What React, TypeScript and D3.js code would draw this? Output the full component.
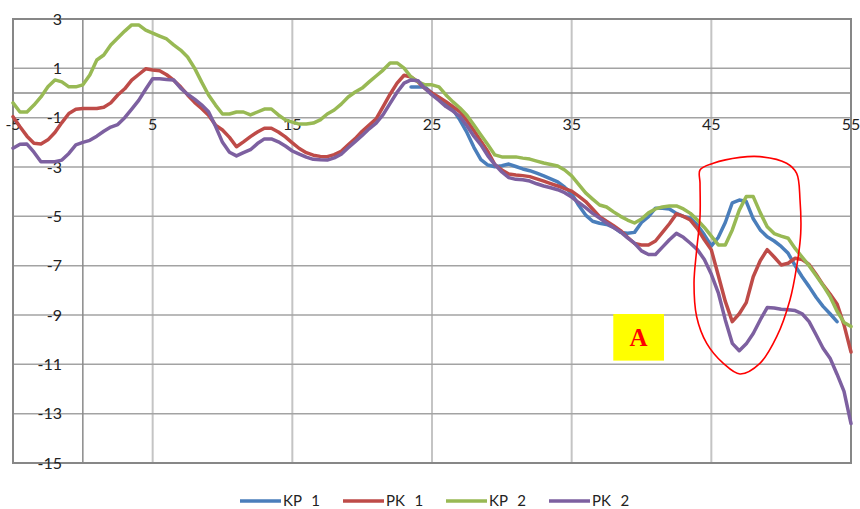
import React from 'react';
import * as d3 from 'd3';

const X_START = -5;
const X_STEP = 0.5;
const KP1_START = 23.5;

const kp1 = [0.24, 0.24, 0.24, 0.0, -0.25, -0.42, -0.67, -1.1, -1.6, -2.2, -2.7, -2.92, -2.99, -2.95, -2.88, -2.98, -3.08, -3.15, -3.25, -3.36, -3.48, -3.6, -3.82, -4.08, -4.55, -4.95, -5.2, -5.28, -5.33, -5.45, -5.65, -5.69, -5.65, -5.25, -5.01, -4.67, -4.67, -4.7, -4.88, -5.0, -5.08, -5.35, -5.75, -6.2, -5.85, -5.25, -4.45, -4.34, -4.4, -5.1, -5.55, -5.83, -6.0, -6.22, -6.5, -7.0, -7.45, -7.85, -8.28, -8.65, -8.95, -9.27];

const pk1 = [-0.96, -1.37, -1.75, -2.04, -2.07, -1.9, -1.6, -1.2, -0.83, -0.66, -0.63, -0.63, -0.63, -0.58, -0.4, -0.08, 0.17, 0.52, 0.75, 0.98, 0.93, 0.9, 0.74, 0.52, 0.25, -0.08, -0.38, -0.63, -0.9, -1.3, -1.5, -1.8, -2.18, -1.98, -1.77, -1.58, -1.43, -1.43, -1.58, -1.78, -2.02, -2.25, -2.42, -2.52, -2.57, -2.58, -2.5, -2.36, -2.1, -1.85, -1.55, -1.3, -1.05, -0.55, -0.05, 0.4, 0.72, 0.65, 0.45, 0.18, 0.0, -0.17, -0.35, -0.55, -0.76, -1.12, -1.52, -1.95, -2.37, -2.9, -3.12, -3.28, -3.32, -3.35, -3.39, -3.48, -3.57, -3.67, -3.77, -3.88, -3.98, -4.18, -4.4, -4.7, -5.01, -5.2, -5.38, -5.58, -5.85, -6.1, -6.16, -6.16, -6.0, -5.65, -5.3, -4.9, -5.0, -5.15, -5.5, -5.95, -6.36, -7.4, -8.45, -9.27, -8.95, -8.5, -7.45, -6.8, -6.35, -6.65, -6.97, -6.9, -6.7, -6.75, -6.95, -7.35, -7.78, -8.15, -8.55, -9.4, -10.5];

const kp2 = [-0.4, -0.77, -0.77, -0.49, -0.16, 0.25, 0.53, 0.45, 0.25, 0.25, 0.33, 0.73, 1.34, 1.54, 1.95, 2.23, 2.51, 2.76, 2.76, 2.55, 2.43, 2.31, 2.19, 1.95, 1.74, 1.46, 1.01, 0.45, -0.08, -0.49, -0.85, -0.85, -0.77, -0.77, -0.89, -0.77, -0.65, -0.65, -0.89, -1.09, -1.18, -1.26, -1.26, -1.22, -1.09, -0.85, -0.69, -0.45, -0.16, 0.04, 0.2, 0.45, 0.69, 0.93, 1.22, 1.22, 1.01, 0.65, 0.45, 0.33, 0.33, 0.25, -0.08, -0.36, -0.61, -0.9, -1.3, -1.7, -2.1, -2.51, -2.59, -2.59, -2.59, -2.64, -2.68, -2.76, -2.84, -2.9, -2.96, -3.12, -3.36, -3.7, -4.05, -4.3, -4.54, -4.62, -4.82, -5.0, -5.15, -5.27, -5.11, -4.86, -4.7, -4.62, -4.58, -4.58, -4.7, -4.88, -5.15, -5.45, -5.8, -6.16, -6.16, -5.55, -4.75, -4.2, -4.2, -4.85, -5.42, -5.7, -5.8, -5.89, -6.3, -6.65, -7.0, -7.4, -7.8, -8.25, -8.85, -9.3, -9.47];

const pk2 = [-2.24, -2.08, -2.07, -2.4, -2.79, -2.79, -2.79, -2.72, -2.45, -2.1, -2.0, -1.92, -1.75, -1.55, -1.38, -1.28, -1.0, -0.65, -0.3, 0.15, 0.58, 0.58, 0.55, 0.53, 0.2, -0.05, -0.25, -0.48, -0.76, -1.35, -2.0, -2.4, -2.55, -2.42, -2.3, -2.05, -1.86, -1.86, -1.98, -2.15, -2.35, -2.48, -2.6, -2.69, -2.71, -2.72, -2.63, -2.48, -2.22, -1.97, -1.72, -1.45, -1.22, -0.88, -0.42, 0.03, 0.4, 0.53, 0.5, 0.18, -0.08, -0.3, -0.55, -0.73, -0.95, -1.33, -1.75, -2.1, -2.55, -2.9, -3.2, -3.43, -3.5, -3.52, -3.57, -3.68, -3.77, -3.84, -3.92, -4.04, -4.22, -4.44, -4.65, -4.88, -5.07, -5.27, -5.45, -5.63, -5.87, -6.09, -6.4, -6.55, -6.55, -6.25, -5.95, -5.69, -5.85, -6.09, -6.35, -6.75, -7.35, -8.1, -9.2, -10.15, -10.45, -10.17, -9.75, -9.2, -8.7, -8.72, -8.77, -8.79, -8.82, -8.95, -9.27, -9.8, -10.35, -10.75, -11.4, -12.1, -13.4];

const seriesNames = ['KP  1', 'PK  1', 'KP  2', 'PK  2'];
const seriesColors = ['#4A7EBB', '#BE4B48', '#98B954', '#7D60A0'];
const seriesStarts = [KP1_START, X_START, X_START, X_START];
const seriesValues = [kp1, pk1, kp2, pk2];

const xTicks = [-5, 5, 15, 25, 35, 45, 55];
const yTicks = [3, 1, -1, -3, -5, -7, -9, -11, -13, -15];

const noteLabel = 'A';
const noteBoxX = [37.98, 41.61];
const noteBoxY = [-8.96, -10.85];
const loopX = [44.19, 45.14, 47.05, 48.48, 50.39, 51.11, 51.35, 51.4, 51.11, 50.63, 49.68, 48.48, 47.05, 45.86, 44.67, 43.95, 43.76, 43.95, 44.19, 44.19];
const loopY = [-3.12, -2.85, -2.61, -2.58, -2.85, -3.26, -4.34, -5.69, -7.04, -8.39, -9.88, -10.96, -11.39, -10.96, -10.15, -9.07, -7.71, -6.36, -5.01, -3.66];

const W = 860;
const H = 509;
const FONT = 'Lato, "Open Sans", sans-serif';

export default function App() {
  const x = d3.scaleLinear().domain([-5, 55]).range([13, 851]);
  const y = d3.scaleLinear().domain([-15, 3]).range([463, 19]);

  const line = d3
    .line<[number, number]>()
    .x((d) => x(d[0]))
    .y((d) => y(d[1]));

  const loopLine = d3
    .line<[number, number]>()
    .x((d) => x(d[0]))
    .y((d) => y(d[1]))
    .curve(d3.curveCatmullRomClosed.alpha(0.5));

  const loopPts: [number, number][] = loopX.map((v, i) => [v, loopY[i]]);

  const legendX0 = 240;
  const legendStep = 103;
  const legendY = 501;

  return (
    <svg
      width={W}
      height={H}
      style={{ position: 'absolute', left: 0, top: 0, background: '#fff' }}
      fontFamily={FONT}
    >
      <rect x={0} y={0} width={W} height={H} fill="#fff" />
      {xTicks.map((t) => (
        <line key={'vx' + t} x1={x(t)} x2={x(t)} y1={y(3)} y2={y(-15)} stroke="#c4c4c4" strokeWidth={2} />
      ))}
      {yTicks.map((t) => (
        <line key={'hy' + t} x1={x(-5)} x2={x(55)} y1={y(t)} y2={y(t)} stroke="#a3a3a3" strokeWidth={1.5} />
      ))}
      <line x1={x(-5)} x2={x(55)} y1={y(0)} y2={y(0)} stroke="#8a8a8a" strokeWidth={1.5} />
      <line x1={x(0)} x2={x(0)} y1={y(3)} y2={y(-15)} stroke="#8a8a8a" strokeWidth={1.5} />
      <rect x={x(-5)} y={y(3)} width={x(55) - x(-5)} height={y(-15) - y(3)} fill="none" stroke="#878787" strokeWidth={2} />

      {yTicks.map((t) => (
        <text key={'yl' + t} x={62} y={y(t)} dy="0.36em" textAnchor="end" fontSize={16} fill="#222">
          {t}
        </text>
      ))}
      {xTicks.map((t) => (
        <text key={'xl' + t} x={x(t)} y={y(0) + 37} textAnchor="middle" fontSize={16} fill="#222">
          {t}
        </text>
      ))}

      {seriesValues.map((vals, si) => {
        const pts: [number, number][] = vals.map((v, i) => [seriesStarts[si] + i * X_STEP, v]);
        return (
          <path
            key={'s' + si}
            d={line(pts) || ''}
            fill="none"
            stroke={seriesColors[si]}
            strokeWidth={3.5}
            strokeLinejoin="round"
            strokeLinecap="round"
          />
        );
      })}

      <rect
        x={x(noteBoxX[0])}
        y={y(noteBoxY[0])}
        width={x(noteBoxX[1]) - x(noteBoxX[0])}
        height={y(noteBoxY[1]) - y(noteBoxY[0])}
        fill="#ffff00"
      />
      <text
        x={(x(noteBoxX[0]) + x(noteBoxX[1])) / 2}
        y={(y(noteBoxY[0]) + y(noteBoxY[1])) / 2}
        dy="0.36em"
        textAnchor="middle"
        fontFamily='"Liberation Serif", "DejaVu Serif", serif'
        fontWeight="bold"
        fontSize={25}
        fill="#ff0000"
      >
        {noteLabel}
      </text>
      <path d={loopLine(loopPts) || ''} fill="none" stroke="#ff0000" strokeWidth={1.6} />

      {seriesNames.map((n, i) => {
        const lx = legendX0 + i * legendStep;
        return (
          <g key={'lg' + i}>
            <line x1={lx} x2={lx + 41} y1={legendY} y2={legendY} stroke={seriesColors[i]} strokeWidth={3.5} />
            <text
              x={lx + 43}
              y={legendY}
              dy="0.36em"
              fontSize={15}
              fill="#222"
              style={{ whiteSpace: 'pre' }}
              wordSpacing={1}
            >
              {n}
            </text>
          </g>
        );
      })}
    </svg>
  );
}
